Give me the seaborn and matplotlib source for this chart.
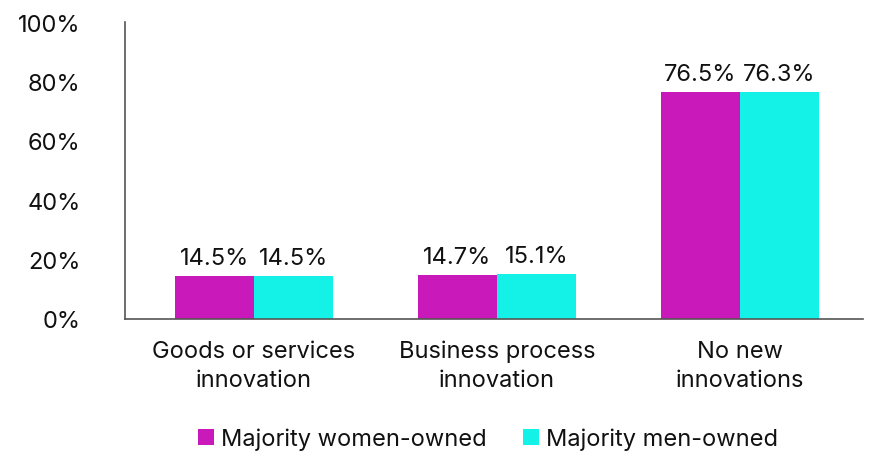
import matplotlib
matplotlib.use("Agg")
import matplotlib.pyplot as plt
import seaborn as sns
import pandas as pd
from matplotlib.patches import Patch

categories = ["Goods or services\ninnovation", "Business process\ninnovation", "No new\ninnovations"]
series_names = ["Majority women-owned", "Majority men-owned"]
women = [14.5, 14.7, 76.5]
men = [14.5, 15.1, 76.3]
yticks = [0, 20, 40, 60, 80, 100]
colors = ["#CA19BA", "#14F1E6"]

df = pd.DataFrame({
    "category": categories * 2,
    "series": [series_names[0]] * 3 + [series_names[1]] * 3,
    "value": women + men,
})

sns.set_theme(style="white")
plt.rcParams["font.family"] = ["Inter", "DejaVu Sans"]

FS = 17
fig = plt.figure(figsize=(8.82, 4.56), dpi=100)
ax = fig.add_axes([125 / 882, 1 - 320 / 456, 738 / 882, 297 / 456])

sns.barplot(data=df, x="category", y="value", hue="series", palette=colors,
            order=categories, hue_order=series_names, width=0.65, ax=ax,
            saturation=1, legend=False, linewidth=0, edgecolor="none")

for cont in ax.containers:
    ax.bar_label(cont, labels=[f"{v:.1f}%" for v in cont.datavalues],
                 padding=5, fontsize=FS, color="#111111")

ax.set_xlim(-0.531, 2.506)
ax.set_ylim(0, 100)
ax.set_yticks(yticks)
ax.set_yticklabels([f"{t}%" for t in yticks], fontsize=FS, color="#111111")
ax.tick_params(axis="y", length=0, pad=32)
ax.tick_params(axis="x", length=0, pad=15, labelsize=FS, labelcolor="#111111")
for lbl in ax.get_xticklabels():
    lbl.set_linespacing(1.4)
ax.set_xlabel("")
ax.set_ylabel("")
for s in ["top", "right"]:
    ax.spines[s].set_visible(False)
for s in ["left", "bottom"]:
    ax.spines[s].set_color("#555555")
    ax.spines[s].set_linewidth(1.2)

handles = [Patch(facecolor=c, edgecolor="none") for c in colors]
fig.legend(handles, series_names, loc="center", bbox_to_anchor=(488 / 882, 1 - 440 / 456),
           ncol=2, frameon=False, fontsize=FS, handlelength=0.7, handleheight=0.7,
           handletextpad=0.3, columnspacing=1.5, labelcolor="#111111")

fig.savefig("out.png", dpi=100)
